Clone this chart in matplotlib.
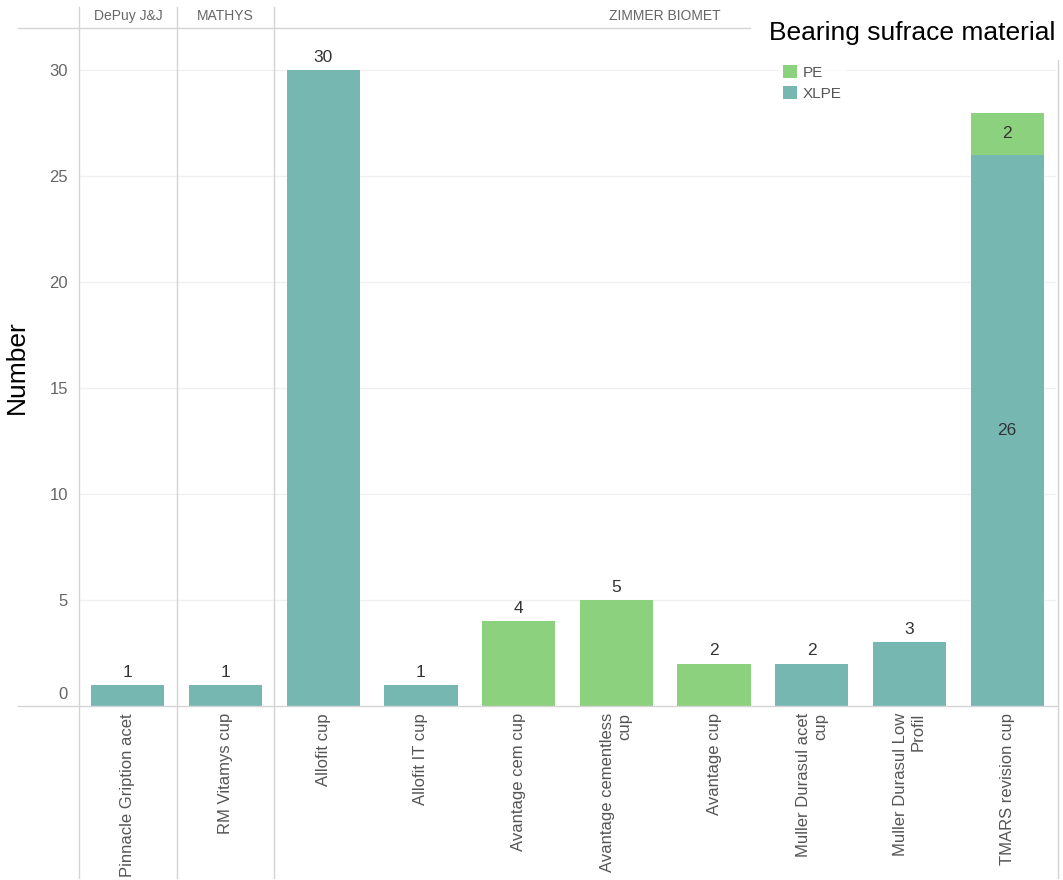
import matplotlib
matplotlib.use("Agg")
import matplotlib.pyplot as plt
import matplotlib.transforms as mtransforms
from matplotlib.patches import Patch
import numpy as np

plt.rcParams['font.family'] = ['Liberation Sans', 'DejaVu Sans']

categories = ["Pinnacle Gription acet", "RM Vitamys cup", "Allofit cup", "Allofit IT cup",
              "Avantage cem cup", "Avantage cementless\ncup", "Avantage cup",
              "Muller Durasul acet\ncup", "Muller Durasul Low\nProfil", "TMARS revision cup"]
manufacturers = ["DePuy J&J", "MATHYS", "ZIMMER BIOMET"]
group_sizes = [1, 1, 8]
xlpe = [1, 1, 30, 1, 0, 0, 0, 2, 3, 26]
pe = [0, 0, 0, 0, 4, 5, 2, 0, 0, 2]
yticks = [0, 5, 10, 15, 20, 25, 30]

C_XLPE = "#76B7B2"
C_PE = "#8CD17D"
GRID = "#d4d4d4"

W, H = 1063, 880
fig = plt.figure(figsize=(W / 100, H / 100), dpi=100)
ax_l, ax_r, ax_b, ax_t = 79, 1056, 706, 28
ax = fig.add_axes([ax_l / W, 1 - ax_b / H, (ax_r - ax_l) / W, (ax_b - ax_t) / H])

x = np.arange(len(categories))
ax.bar(x, xlpe, width=0.75, color=C_XLPE, zorder=3)
ax.bar(x, pe, width=0.75, bottom=xlpe, color=C_PE, zorder=3)

for i in range(len(categories)):
    a, b = xlpe[i], pe[i]
    if a > 0 and b > 0:
        ax.text(i, a / 2, str(a), ha='center', va='center', fontsize=12.5, color='#333333', zorder=4)
        ax.text(i, a + b / 2, str(b), ha='center', va='center', fontsize=12.5, color='#333333', zorder=4)
    else:
        ax.text(i, a + b + 0.25, str(a + b), ha='center', va='bottom', fontsize=12.5, color='#333333', zorder=4)

ax.set_xlim(-0.5, len(categories) - 0.5)
ax.set_ylim(0, 32)
ax.set_yticks(yticks)
ax.set_yticklabels([str(t) for t in yticks])
ax.set_xticks(x)
ax.set_xticklabels(categories, rotation=90, ha='center', va='top', multialignment='right')
ax.tick_params(axis='y', length=0, pad=8, labelsize=12, labelcolor='#666666')
ax.tick_params(axis='x', length=0, pad=5, labelsize=12, labelcolor='#555555')
# zero label sits just above the baseline
zl = ax.get_yticklabels()[0]
zl.set_transform(zl.get_transform() + mtransforms.ScaledTranslation(0, 13 / 100, fig.dpi_scale_trans))
for s in ax.spines.values():
    s.set_visible(False)
for t in yticks[1:]:
    ax.axhline(t, color='#f0f0f0', lw=1, zorder=1)

ax.set_ylabel("Number", fontsize=19, color='black')

# axes-fraction helpers
def ay(py):
    return (ax_b - py) / (ax_b - ax_t)

def axf(px):
    return (px - ax_l) / (ax_r - ax_l)

ax.yaxis.set_label_coords(axf(29), 0.5)

trans_xd = mtransforms.blended_transform_factory(ax.transData, ax.transAxes)
# group separators
bounds = np.concatenate([[0], np.cumsum(group_sizes)]) - 0.5
for bx in bounds[:-1]:
    ax.plot([bx, bx], [ay(878), ay(7)], color=GRID, lw=1, transform=trans_xd, clip_on=False, zorder=2)
ax.plot([bounds[-1] + 0.02, bounds[-1] + 0.02], [ay(878), ay(60)], color=GRID, lw=1,
        transform=trans_xd, clip_on=False, zorder=2)
# header text
for i, name in enumerate(manufacturers):
    cx = (bounds[i] + bounds[i + 1]) / 2
    ax.text(cx, ay(16), name, transform=trans_xd, ha='center', va='center',
            fontsize=10, color='#666666')
# header line and zero line
ax.plot([axf(18), axf(750)], [1, 1], color=GRID, lw=1, transform=ax.transAxes, clip_on=False)
ax.plot([axf(18), axf(1058)], [0, 0], color=GRID, lw=1, transform=ax.transAxes, clip_on=False, zorder=5)

# legend
fig.text(769 / W, 1 - 33 / H, "Bearing sufrace material", fontsize=19, color='black',
         ha='left', va='center')
handles = [Patch(facecolor=C_PE, label="PE"), Patch(facecolor=C_XLPE, label="XLPE")]
leg = fig.legend(handles=handles, loc='upper left', bbox_to_anchor=(770 / W, 1 - 52 / H),
                 frameon=True, fontsize=11, handlelength=0.9, handleheight=0.9,
                 handletextpad=0.4, labelspacing=0.45, borderpad=0.35)
leg.get_frame().set_facecolor('white')
leg.get_frame().set_edgecolor('none')
for t in leg.get_texts():
    t.set_color('#555555')

fig.savefig("out.png", dpi=100, facecolor='white')
